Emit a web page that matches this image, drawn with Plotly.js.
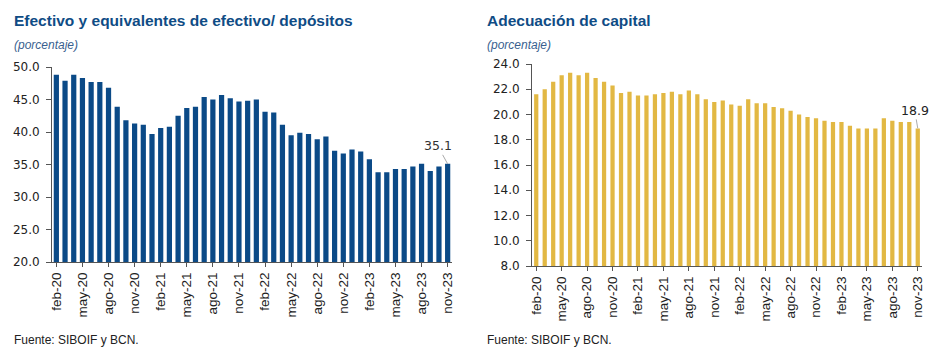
<!DOCTYPE html>
<html>
<head>
<meta charset="utf-8">
<script src="https://cdn.plot.ly/plotly-3.0.1.min.js"></script>
<style>html,body{margin:0;padding:0;background:#fff;}#chart{width:946px;height:359px;}</style>
</head>
<body>
<div id="chart"></div>
<script>
const months = ["feb-20","mar-20","abr-20","may-20","jun-20","jul-20","ago-20","sep-20","oct-20","nov-20","dic-20",
"ene-21","feb-21","mar-21","abr-21","may-21","jun-21","jul-21","ago-21","sep-21","oct-21","nov-21","dic-21",
"ene-22","feb-22","mar-22","abr-22","may-22","jun-22","jul-22","ago-22","sep-22","oct-22","nov-22","dic-22",
"ene-23","feb-23","mar-23","abr-23","may-23","jun-23","jul-23","ago-23","sep-23","oct-23","nov-23"];
const tickLabels = ["feb-20","may-20","ago-20","nov-20","feb-21","may-21","ago-21","nov-21","feb-22","may-22","ago-22","nov-22","feb-23","may-23","ago-23","nov-23"];
const efectivo = [48.8,47.9,48.8,48.3,47.7,47.7,46.8,43.9,41.8,41.3,41.1,39.7,40.6,40.8,42.5,43.7,43.9,45.4,45.0,45.7,45.2,44.7,
44.8,45.0,43.1,43.0,41.1,39.5,39.9,39.7,38.9,39.3,37.1,36.7,37.3,37.0,35.8,33.8,33.8,34.3,34.3,34.7,35.1,34.0,34.7,35.1];
const capital = [21.6,22.0,22.6,23.1,23.3,23.1,23.3,22.9,22.6,22.3,21.7,21.8,21.5,21.5,21.6,21.7,21.8,21.6,21.9,21.6,21.2,21.0,
21.1,20.8,20.7,21.2,20.9,20.9,20.6,20.5,20.3,20.0,19.8,19.7,19.5,19.4,19.4,19.1,18.9,18.9,18.9,19.7,19.5,19.4,19.4,18.9];

const tickFontY = {family:"DejaVu Sans, Verdana, sans-serif", size:12, color:"#222"};
const tickFontX = {family:"Liberation Sans, Arial, sans-serif", size:13.5, color:"#222"};

function xAxis(domain, anchor){
  return {domain:domain, anchor:anchor, type:"category", categoryorder:"array", categoryarray:months,
    range:[-0.5,45.5], tickmode:"array", tickvals:tickLabels, ticktext:tickLabels, tickangle:-90,
    ticks:"outside", ticklen:4, tickcolor:"#555", showline:true, linecolor:"#555", linewidth:1,
    showgrid:false, zeroline:false, tickfont:tickFontX, fixedrange:true};
}
function yAxis(domain, anchor, range, dtick){
  return {domain:domain, anchor:anchor, range:range, dtick:dtick, tick0:range[0], tickformat:".1f",
    ticks:"outside", ticklen:5, tickcolor:"#555", showline:true, linecolor:"#555", linewidth:1,
    ticklabelstandoff:4,
    showgrid:false, zeroline:false, tickfont:tickFontY, fixedrange:true};
}

const data = [
  {type:"bar", x:months, y:efectivo, xaxis:"x", yaxis:"y", marker:{color:"#0B4A87"}, width:0.6, hoverinfo:"x+y"},
  {type:"bar", x:months, y:capital, xaxis:"x2", yaxis:"y2", marker:{color:"#E2B843"}, width:0.5, hoverinfo:"x+y"}
];

const layout = {
  width:946, height:359, margin:{l:0,r:0,t:0,b:0}, showlegend:false,
  paper_bgcolor:"#fff", plot_bgcolor:"#fff",
  xaxis: xAxis([52/946, 452/946], "y"),
  yaxis: yAxis([1-262/359, 1-67/359], "x", [20,50], 5),
  xaxis2: xAxis([532/946, 922/946], "y2"),
  yaxis2: yAxis([1-266/359, 1-64/359], "x2", [8,24], 2),
  annotations:[
    {xref:"paper", yref:"paper", x:12/946, y:1-20/359, xanchor:"left", yanchor:"middle", showarrow:false,
     text:"<b>Efectivo y equivalentes de efectivo/ depósitos</b>", font:{family:"Liberation Sans, Arial, sans-serif", size:15.5, color:"#0F4C85"}},
    {xref:"paper", yref:"paper", x:12/946, y:1-45/359, xanchor:"left", yanchor:"middle", showarrow:false,
     text:"<i>(porcentaje)</i>", font:{family:"Liberation Sans, Arial, sans-serif", size:12, color:"#3A5F8F"}},
    {xref:"paper", yref:"paper", x:485/946, y:1-20/359, xanchor:"left", yanchor:"middle", showarrow:false,
     text:"<b>Adecuación de capital</b>", font:{family:"Liberation Sans, Arial, sans-serif", size:15.5, color:"#0F4C85"}},
    {xref:"paper", yref:"paper", x:485/946, y:1-45/359, xanchor:"left", yanchor:"middle", showarrow:false,
     text:"<i>(porcentaje)</i>", font:{family:"Liberation Sans, Arial, sans-serif", size:12, color:"#3A5F8F"}},
    {xref:"paper", yref:"paper", x:12/946, y:1-340/359, xanchor:"left", yanchor:"middle", showarrow:false,
     text:"Fuente: SIBOIF y BCN.", font:{family:"Liberation Sans, Arial, sans-serif", size:12, color:"#222"}},
    {xref:"paper", yref:"paper", x:485/946, y:1-340/359, xanchor:"left", yanchor:"middle", showarrow:false,
     text:"Fuente: SIBOIF y BCN.", font:{family:"Liberation Sans, Arial, sans-serif", size:12, color:"#222"}},
    {xref:"x", yref:"y", x:months[45], y:efectivo[45], text:efectivo[45].toFixed(1), showarrow:true, arrowhead:0,
     arrowwidth:1, arrowcolor:"#aaa", ax:-10, ay:-18, standoff:0, font:{family:"DejaVu Sans, Verdana, sans-serif", size:12.5, color:"#333"}},
    {xref:"x2", yref:"y2", x:months[45], y:capital[45], text:capital[45].toFixed(1), showarrow:true, arrowhead:0,
     arrowwidth:1, arrowcolor:"#aaa", ax:-3, ay:-18, standoff:0, font:{family:"DejaVu Sans, Verdana, sans-serif", size:12.5, color:"#222"}}
  ]
};

Plotly.newPlot("chart", data, layout, {displayModeBar:false, staticPlot:true});
</script>
</body>
</html>
